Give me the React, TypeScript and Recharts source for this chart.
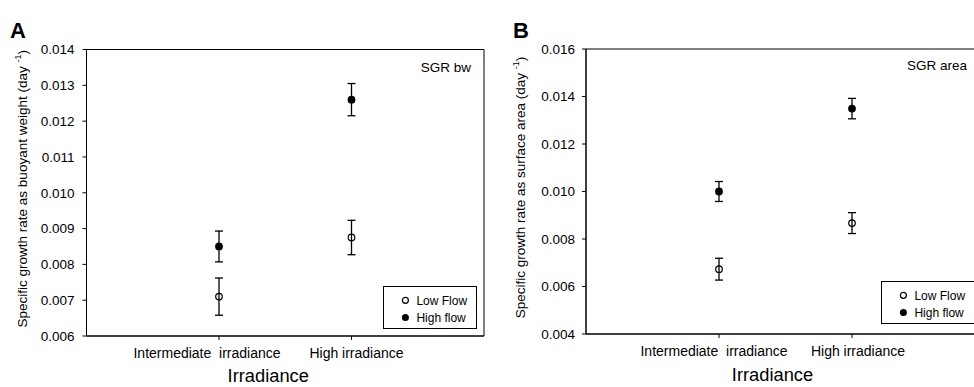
import React from "react";
import {
  ScatterChart,
  Scatter,
  XAxis,
  YAxis,
  ErrorBar,
  ReferenceArea,
  Legend,
} from "recharts";

const categories = ["Intermediate  irradiance", "High irradiance"];
const seriesNames = ["Low Flow", "High flow"];

// panel A: specific growth rate as buoyant weight
const bwLow = [0.0071, 0.00875];
const bwLowErr = [0.00052, 0.00048];
const bwHigh = [0.0085, 0.0126];
const bwHighErr = [0.00043, 0.00045];
const bwTicks = [0.006, 0.007, 0.008, 0.009, 0.01, 0.011, 0.012, 0.013, 0.014];

// panel B: specific growth rate as surface area
const areaLow = [0.00673, 0.00867];
const areaLowErr = [0.00046, 0.00044];
const areaHigh = [0.01, 0.01349];
const areaHighErr = [0.00042, 0.00043];
const areaTicks = [0.004, 0.006, 0.008, 0.01, 0.012, 0.014, 0.016];

const font = "'Liberation Sans', Arial, Helvetica, sans-serif";

const toPoints = (means: number[], errs: number[]) =>
  means.map((y, i) => ({ x: i + 1, y, err: errs[i] }));

const OpenDot = (props: any) => (
  <circle cx={props.cx} cy={props.cy} r={3.3} fill="none" stroke="#000" strokeWidth={1.2} />
);
const FilledDot = (props: any) => (
  <circle cx={props.cx} cy={props.cy} r={3.9} fill="#000" />
);

const CategoryTick = ({ x, y, payload, shifts }: any) => {
  const i = Math.round(payload.value) - 1;
  return (
    <text
      x={x + (shifts[i] || 0)}
      y={y + 16}
      textAnchor="middle"
      fontSize={14}
      fill="#000"
      style={{ whiteSpace: "pre" }}
    >
      {categories[i]}
    </text>
  );
};

// legend rows follow the series order (open = Low Flow, filled = High flow)
const FlowLegend = ({ payload }: any) => {
  const names: string[] = (payload || [])
    .map((e: any) => String(e.value))
    .sort((a: string, b: string) => seriesNames.indexOf(a) - seriesNames.indexOf(b));
  const rows = names.length ? names : seriesNames;
  return (
    <svg width={94} height={43} style={{ display: "block" }}>
      <rect x={0.5} y={0.5} width={93} height={42} fill="#fff" stroke="#000" strokeWidth={1} />
      {rows.map((name, i) => (
        <g key={name}>
          {seriesNames.indexOf(name) === 0 ? (
            <circle cx={22.4} cy={14.3 + i * 17.3} r={3} fill="none" stroke="#000" strokeWidth={1.2} />
          ) : (
            <circle cx={22.4} cy={14.3 + i * 17.3} r={3.5} fill="#000" />
          )}
          <text x={33.4} y={18.5 + i * 17.3} fontSize={12} fill="#000" fontFamily={font}>
            {name}
          </text>
        </g>
      ))}
    </svg>
  );
};

const YTitle = ({ viewBox, text, offset }: any) => {
  const cx = viewBox.x + offset;
  const cy = viewBox.y + viewBox.height / 2 - 4;
  return (
    <text
      x={cx}
      y={cy}
      transform={`rotate(-90 ${cx} ${cy})`}
      textAnchor="middle"
      fontSize={13.5}
      fill="#000"
    >
      {text}
      <tspan fontSize={9} dy={-6}>-1</tspan>
      <tspan dy={6}>)</tspan>
    </text>
  );
};

type PanelProps = {
  left: number;
  width: number;
  yAxisWidth: number;
  top: number;
  xAxisHeight: number;
  right: number;
  ticks: number[];
  low: number[];
  lowErr: number[];
  high: number[];
  highErr: number[];
  yTitle: string;
  yTitleOffset: number;
  tickMargin: number;
  tickShifts: number[];
  titleShift: number;
  titleOffset: number;
  legendLeft: number;
  legendTop: number;
};

const Panel = (p: PanelProps) => {
  const yMin = p.ticks[0];
  const yMax = p.ticks[p.ticks.length - 1];
  return (
    <div style={{ position: "absolute", left: p.left, top: 0 }}>
      <ScatterChart
        width={p.width}
        height={387}
        margin={{ top: p.top, right: p.right, left: 0, bottom: 0 }}
      >
        <XAxis
          type="number"
          dataKey="x"
          domain={[0, 3]}
          ticks={[1, 2]}
          height={p.xAxisHeight}
          tickSize={4}
          tickMargin={2}
          axisLine={{ stroke: "#000" }}
          tickLine={{ stroke: "#000" }}
          tick={<CategoryTick shifts={p.tickShifts} />}
          label={{
            value: "Irradiance",
            position: "insideBottom",
            offset: p.titleOffset,
            dx: p.titleShift,
            fontSize: 18.3,
            fill: "#000",
          }}
        />
        <YAxis
          type="number"
          dataKey="y"
          domain={[yMin, yMax]}
          ticks={p.ticks}
          width={p.yAxisWidth}
          tickSize={4}
          tickMargin={p.tickMargin}
          axisLine={{ stroke: "#000" }}
          tickLine={{ stroke: "#000" }}
          tick={{ fill: "#000", fontSize: 13.5 }}
          tickFormatter={(v: number) => v.toFixed(3)}
          label={{
            content: (lp: any) => (
              <YTitle viewBox={lp.viewBox} text={p.yTitle} offset={p.yTitleOffset} />
            ),
          }}
        />
        <ReferenceArea
          x1={0}
          x2={3}
          y1={yMin}
          y2={yMax}
          fill="none"
          stroke="#000"
          strokeWidth={1}
        />
        <Scatter
          name={seriesNames[0]}
          data={toPoints(p.low, p.lowErr)}
          shape={OpenDot}
          isAnimationActive={false}
        >
          <ErrorBar dataKey="err" direction="y" width={4} stroke="#000" strokeWidth={1.3} />
        </Scatter>
        <Scatter
          name={seriesNames[1]}
          data={toPoints(p.high, p.highErr)}
          shape={FilledDot}
          isAnimationActive={false}
        >
          <ErrorBar dataKey="err" direction="y" width={4} stroke="#000" strokeWidth={1.3} />
        </Scatter>
        <Legend
          layout="vertical"
          align="center"
          verticalAlign="middle"
          content={<FlowLegend />}
          wrapperStyle={{ left: p.legendLeft, top: p.legendTop, width: 94, height: 43 }}
        />
      </ScatterChart>
    </div>
  );
};

export default function App() {
  return (
    <div
      style={{
        position: "absolute",
        left: 0,
        top: 0,
        width: 974,
        height: 387,
        overflow: "hidden",
        background: "#fff",
        fontFamily: font,
      }}
    >
      <Panel
        left={0}
        width={490}
        yAxisWidth={86.5}
        top={49.5}
        xAxisHeight={51}
        right={6}
        ticks={bwTicks}
        low={bwLow}
        lowErr={bwLowErr}
        high={bwHigh}
        highErr={bwHighErr}
        yTitle="Specific growth rate as buoyant weight (day "
        yTitleOffset={26.5}
        tickMargin={8}
        tickShifts={[-12, 5]}
        titleShift={-17}
        titleOffset={5}
        legendLeft={383.3}
        legendTop={285.7}
      />
      <Panel
        left={490}
        width={500}
        yAxisWidth={96}
        top={49}
        xAxisHeight={53}
        right={5}
        ticks={areaTicks}
        low={areaLow}
        lowErr={areaLowErr}
        high={areaHigh}
        highErr={areaHighErr}
        yTitle="Specific growth rate as surface area (day "
        yTitleOffset={35}
        tickMargin={7}
        tickShifts={[-5, 6]}
        titleShift={-13}
        titleOffset={6}
        legendLeft={391}
        legendTop={280.7}
      />
      <svg
        width={974}
        height={387}
        style={{ position: "absolute", left: 0, top: 0, pointerEvents: "none" }}
      >
        <text x={10} y={38} fontSize={22} fontWeight="bold" fill="#000">A</text>
        <text x={513} y={38} fontSize={22} fontWeight="bold" fill="#000">B</text>
        <text x={471} y={72} fontSize={13.5} textAnchor="end" fill="#000">SGR bw</text>
        <text x={967} y={70} fontSize={13.5} textAnchor="end" fill="#000">SGR area</text>
      </svg>
    </div>
  );
}
